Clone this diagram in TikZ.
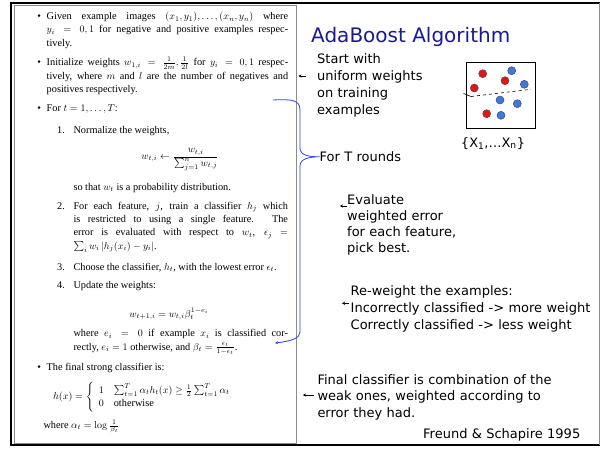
\documentclass[tikz,border=0pt]{standalone}
\usepackage[no-math]{fontspec}
\setmainfont{DejaVu Sans}
\newfontfamily\paperfont{Liberation Serif}
\usetikzlibrary{arrows.meta}

\definecolor{titleblue}{RGB}{25,25,150}
\definecolor{bracketblue}{RGB}{45,65,245}
\definecolor{panelgray}{RGB}{140,140,140}
\definecolor{dotred}{RGB}{230,20,20}
\definecolor{dotblue}{RGB}{60,120,230}

\newcommand{\papersize}{\paperfont\fontsize{10.3}{13.3}\selectfont\tolerance=10000\hyphenpenalty=10000}

\begin{document}
\begin{tikzpicture}[x=1pt,y=-1pt]
	\tikzstyle{every node}=[inner sep=0pt]
	\tikzstyle{para}=[anchor=base west, align=justify, font=\papersize]
	\tikzstyle{eqn}=[anchor=base, font=\papersize]
	\tikzstyle{bul}=[anchor=base, font=\papersize]
	\tikzstyle{note}=[anchor=base west, align=left, text width=270pt, font=\fontsize{13}{17.2}\selectfont]
	\tikzstyle{pointer}=[-{Stealth[length=3pt,width=3.2pt]}, line width=0.6pt]
	\tikzstyle{bracket}=[bracketblue, line width=0.8pt]
	\tikzstyle{posdot}=[circle, draw=black!70, line width=0.5pt, fill=dotred, minimum size=8pt]
	\tikzstyle{negdot}=[circle, draw=black!70, line width=0.5pt, fill=dotblue, minimum size=8pt]

	\useasboundingbox (0,0) rectangle (600,448);

	% frame
	\draw [line width=1.5pt] (600,3) -- (11,3) -- (11,445) -- (600,445);
	\draw [panelgray, line width=0.6pt] (599,3) -- (599,445);
	\draw [panelgray, line width=0.8pt] (14,5) rectangle (296,443);

	% paper excerpt
	\node [bul] (b1) at (39.3,19.5) {\textbullet};
	\node [para, text width=241.5pt] (given) at (46.5,19.5) {Given example images $(x_1,y_1),\ldots,(x_n,y_n)$ where\linebreak $y_i = 0,1$ for negative and positive examples respec-\linebreak tively.};
	\node [bul] (b2) at (39.3,65.7) {\textbullet};
	\node [para, text width=241.5pt] (init) at (46.5,65.7) {Initialize weights $w_{1,i} = \frac{1}{2m}, \frac{1}{2l}$ for $y_i = 0,1$ respec-\linebreak tively, where $m$ and $l$ are the number of negatives and\linebreak positives respectively.};
	\node [bul] (b3) at (39.3,111.7) {\textbullet};
	\node [para] (loop) at (46.5,111.7) {For $t = 1,\ldots,T$:};

	\node [para] (n1) at (57,133.3) {1.};
	\node [para] (norm) at (73.3,133.3) {Normalize the weights,};
	\node [eqn] (normeq) at (180,159.3) {$\displaystyle w_{t,i} \leftarrow \frac{w_{t,i}}{\sum_{j=1}^{n} w_{t,j}}$};
	\node [para] (prob) at (73.3,190) {so that $w_t$ is a probability distribution.};
	\node [para] (n2) at (57,209.3) {2.};
	\node [para, text width=214.5pt] (train) at (73.3,209.3) {For each feature, $j$, train a classifier $h_j$ which\linebreak is restricted to using a single feature. The\linebreak error is evaluated with respect to $w_t$, $\epsilon_j$ $=$\linebreak $\sum_i w_i\,|h_j(x_i) - y_i|$.};
	\node [para] (n3) at (57,270) {3.};
	\node [para] (choose) at (73.3,270) {Choose the classifier, $h_t$, with the lowest error $\epsilon_t$.};
	\node [para] (n4) at (57,288.3) {4.};
	\node [para] (update) at (73.3,288.3) {Update the weights:};
	\node [eqn] (updeq) at (169,317.3) {$\displaystyle w_{t+1,i} = w_{t,i}\beta_t^{1-e_i}$};
	\node [para, text width=214.5pt] (err) at (73.3,336.7) {where $e_i = 0$ if example $x_i$ is classified cor-\linebreak rectly, $e_i = 1$ otherwise, and $\beta_t = \frac{\epsilon_t}{1-\epsilon_t}$.};
	\node [bul] (b4) at (39.3,370) {\textbullet};
	\node [para] (final) at (46.5,370) {The final strong classifier is:};
	\node [font=\papersize, anchor=west] (strong) at (53,397) {$h(x) = \left\{ \begin{array}{ll} 1 & \sum_{t=1}^{T}\alpha_t h_t(x) \geq \frac{1}{2}\sum_{t=1}^{T}\alpha_t \\ 0 & \mbox{otherwise} \end{array}\right.$};
	\node [para] (alpha) at (43.3,428.3) {where $\alpha_t = \log\frac{1}{\beta_t}$};

	% slide side
	\node [anchor=base west, font=\fontsize{20}{24}\selectfont, text=titleblue] (title) at (311,42) {AdaBoost Algorithm};
	\node [note] (start) at (317,63) {Start with\\uniform weights\\on training\\examples};
	\node [note] (rounds) at (319.5,161.5) {For T rounds};
	\node [note, font=\fontsize{13}{16}\selectfont] (evaluate) at (347,204) {Evaluate\\weighted error\\for each feature,\\pick best.};
	\node [note, font=\fontsize{13}{17}\selectfont] (reweight) at (350.5,295.7) {Re-weight the examples:\\Incorrectly classified -> more weight\\Correctly classified -> less weight};
	\node [note, font=\fontsize{13}{16.7}\selectfont] (combine) at (317.3,384) {Final classifier is combination of the\\weak ones, weighted according to\\error they had.};
	\node [note] (cite) at (423,438.3) {Freund \& Schapire 1995};

	% training samples
	\draw [line width=1pt] (466,62) rectangle (535,128);
	\node [posdot] (r1) at (482.7,73.7) {};
	\node [posdot] (r2) at (505,80.7) {};
	\node [posdot] (r3) at (474.3,88) {};
	\node [posdot] (r4) at (486.7,113.7) {};
	\node [negdot] (u1) at (511.7,70.7) {};
	\node [negdot] (u2) at (524.3,84.3) {};
	\node [negdot] (u3) at (500,100) {};
	\node [negdot] (u4) at (517.3,103.7) {};
	\node [negdot] (u5) at (501,115.3) {};
	\coordinate (sepA) at (463.5,93.5);
	\coordinate (sepB) at (471,96.5);
	\coordinate (sepC) at (531,89.3);
	\draw [line width=0.6pt] (sepA) -- (sepB);
	\draw [line width=0.6pt, dashed] (sepB) -- (sepC);
	\node [anchor=base, font=\fontsize{13}{16}\selectfont] (setlabel) at (493,147) {\{X\textsubscript{1},…X\textsubscript{n}\}};

	% bracket over the loop
	\coordinate (brtop) at (273,100);
	\coordinate (brbot) at (275,343);
	\draw [bracket] (brtop) .. controls (292,99) and (300,100) .. (300,110) -- (300,148)
		.. controls (300,155) and (308,157) .. (rounds.west)
		.. controls (308,157) and (300,159) .. (300,166) -- (300,332);
	\draw [bracket, -{Stealth[length=3pt,width=3pt]}] (300,332) .. controls (300,338) and (292,341) .. (brbot);

	% pointers
	\coordinate (p1t) at (306,76);   \coordinate (p1h) at (298.5,76);
	\coordinate (p2t) at (346.5,206); \coordinate (p2h) at (340,206);
	\coordinate (p3t) at (349,303.3); \coordinate (p3h) at (342,303.3);
	\coordinate (p4t) at (313.5,395); \coordinate (p4h) at (303,395);
	\draw [pointer] (p1t) -- (p1h);
	\draw [pointer] (p2t) -- (p2h);
	\draw [pointer] (p3t) -- (p3h);
	\draw [pointer] (p4t) -- (p4h);

\end{tikzpicture}
\end{document}
